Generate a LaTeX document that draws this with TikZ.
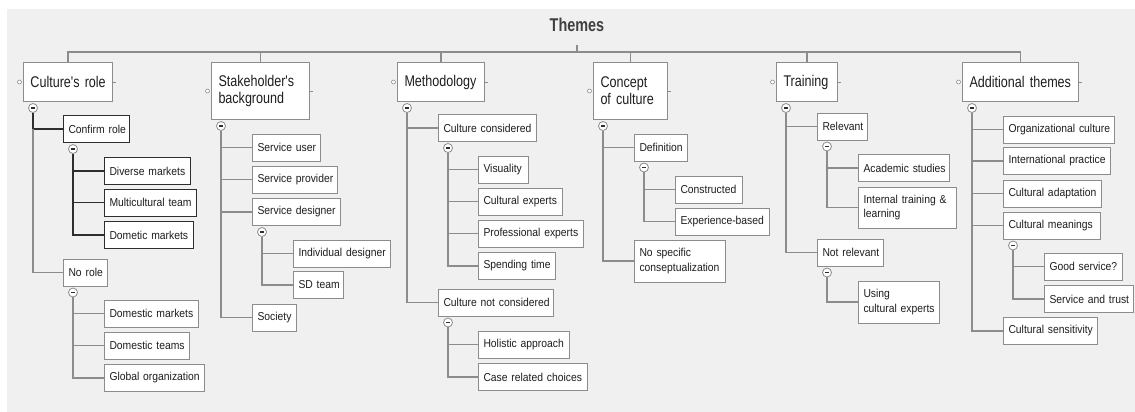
\documentclass[tikz,border=0pt]{standalone}
\usepackage{fontspec}
\setmainfont{Liberation Sans}
\newfontfamily\lvone{Liberation Sans}[FakeStretch=0.81]
\newfontfamily\lvtwo{Liberation Sans}[FakeStretch=0.9]
\newfontfamily\ttlfont{Liberation Sans}[FakeStretch=0.78]
\usetikzlibrary{calc}
\definecolor{bgcol}{HTML}{F0F0F0}
\definecolor{linegrey}{HTML}{8C8C8C}
\definecolor{boxgrey}{HTML}{8C8C8C}
\definecolor{darkline}{HTML}{2E2E2E}
\definecolor{txt}{HTML}{1E1E1E}
% labels are never broken inside a word
\hyphenpenalty=10000
\exhyphenpenalty=10000

\begin{document}
\begin{tikzpicture}[x=1pt,y=-1pt,
  conn/.style={draw=linegrey,line width=1.1pt},
  darkconn/.style={draw=darkline,line width=1.1pt},
  leaf/.style={draw=boxgrey,fill=white,line width=1pt,anchor=west,align=left,
    inner xsep=5pt,inner ysep=0pt,minimum height=27pt,text=txt,
    font=\lvtwo\fontsize{11.5}{14.5}\selectfont},
  leafdark/.style={leaf,draw=darkline},
  theme/.style={leaf,anchor=north west,inner xsep=7pt,minimum height=39pt,
    font=\lvone\fontsize{15.5}{17}\selectfont},
  toggle/.style={circle,draw=linegrey,fill=white,line width=0.8pt,inner sep=0pt,
    minimum size=9pt,
    path picture={\draw[line width=1.1pt,darkline]
      ([xshift=-2pt]path picture bounding box.center) --
      ([xshift=2pt]path picture bounding box.center);}},
  knob/.style={circle,draw=linegrey,fill=white,line width=0.6pt,inner sep=0pt,
    minimum size=4pt},
]
\useasboundingbox (0,0) rectangle (1135,412);
\fill[bgcol] (7,9) rectangle (1135,412);

% root
\node[font=\ttlfont\bfseries\fontsize{18.5}{20}\selectfont,text=txt!85,anchor=base,inner sep=0pt]
  (title) at (577,32) {Themes};
\coordinate (tickTop) at (577,45);
\coordinate (bar) at (577,52);

% main themes
\node[theme,text width=75pt] (c1) at (23,62) {Culture's~role};
\node[theme,text width=84pt,minimum height=57pt] (c2) at (211,62) {Stakeholder's\\background};
\node[theme,text width=73pt] (c3) at (397,62) {Methodology};
\node[theme,text width=60pt,minimum height=57pt] (c4) at (593,62) {Concept\\of~culture};
\node[theme,text width=47pt] (c5) at (776,62) {Training};
\node[theme,text width=102pt] (c6) at (962,62) {Additional~themes};

\draw[conn] (tickTop) -- (bar);
\draw[conn] (c1.north) |- (bar) -| (c6.north);
\foreach \n in {c2,c3,c4,c5} \draw[conn] (\n.north) -- (\n.north |- bar);

\foreach \n in {c1,c2,c3,c4,c5,c6} {
  \node[knob] (\n-knob) at ([xshift=-3.5pt]\n.west) {};
  \draw[conn,line width=0.8pt] (\n.east) -- ++(3,0);
  \node[toggle] (\n-tg) at ($(\n.south west)+(10,6)$) {};
}

% Culture's role
\node[leafdark,text width=56pt] (confirm) at (63,129) {Confirm~role};
\node[leafdark,text width=76pt] (diverse) at (104,171) {Diverse~markets};
\node[leafdark,text width=82pt] (multi) at (104,202.5) {Multicultural~team};
\node[leafdark,text width=79pt] (dometic) at (104,235) {Dometic~markets};
\node[leaf,text width=34pt] (norole) at (63,272.5) {No~role};
\node[leaf,text width=84pt] (dommark) at (104,313.5) {Domestic~markets};
\node[leaf,text width=75pt] (domteam) at (104,345.5) {Domestic~teams};
\node[leaf,text width=90pt] (global) at (104,378) {Global~organization};
\node[toggle] (confirm-tg) at ($(confirm.south west)+(10,6)$) {};
\node[toggle] (norole-tg) at ($(norole.south west)+(10,6)$) {};

\draw[darkconn] (c1-tg.south) |- (confirm.west);
\draw[conn] (c1-tg.south |- confirm.west) |- (norole.west);
\draw[darkconn] (confirm-tg.south) |- (dometic.west);
\foreach \n in {diverse,multi} \draw[darkconn] (confirm-tg.south |- \n.west) -- (\n.west);
\draw[conn] (norole-tg.south) |- (global.west);
\foreach \n in {dommark,domteam} \draw[conn] (norole-tg.south |- \n.west) -- (\n.west);

% Stakeholder's background
\node[leaf,text width=58pt] (suser) at (252,147.5) {Service~user};
\node[leaf,text width=75pt] (sprov) at (252,179.5) {Service~provider};
\node[leaf,text width=78pt] (sdes) at (252,212) {Service~designer};
\node[leaf,text width=87pt] (inddes) at (293,253.5) {Individual~designer};
\node[leaf,text width=40pt] (sdteam) at (293,285) {SD~team};
\node[leaf,text width=34pt] (society) at (252,317.5) {Society};
\node[toggle] (sdes-tg) at ($(sdes.south west)+(10,6)$) {};
\draw[conn] (c2-tg.south) |- (society.west);
\foreach \n in {suser,sprov,sdes} \draw[conn] (c2-tg.south |- \n.west) -- (\n.west);
\draw[conn] (sdes-tg.south) |- (sdteam.west);
\draw[conn] (sdes-tg.south |- inddes.west) -- (inddes.west);

% Methodology
\node[leaf,text width=88pt] (ccons) at (438,128) {Culture~considered};
\node[leaf,text width=40pt] (visual) at (478,169.5) {Visuality};
\node[leaf,text width=74pt] (cexp) at (478,201.5) {Cultural~experts};
\node[leaf,text width=95pt] (pexp) at (478,233.5) {Professional~experts};
\node[leaf,text width=67pt] (spend) at (478,266) {Spending~time};
\node[leaf,text width=105pt] (cnot) at (438,302.5) {Culture~not~considered};
\node[leaf,text width=81pt] (holist) at (478,344.5) {Holistic~approach};
\node[leaf,text width=99pt] (caserel) at (478,377) {Case~related~choices};
\node[toggle] (ccons-tg) at ($(ccons.south west)+(10,6)$) {};
\node[toggle] (cnot-tg) at ($(cnot.south west)+(10,6)$) {};
\draw[conn] (c3-tg.south) |- (cnot.west);
\draw[conn] (c3-tg.south |- ccons.west) -- (ccons.west);
\draw[conn] (ccons-tg.south) |- (spend.west);
\foreach \n in {visual,cexp,pexp} \draw[conn] (ccons-tg.south |- \n.west) -- (\n.west);
\draw[conn] (cnot-tg.south) |- (caserel.west);
\draw[conn] (cnot-tg.south |- holist.west) -- (holist.west);

% Concept of culture
\node[leaf,text width=43pt] (defin) at (634,147.5) {Definition};
\node[leaf,text width=57pt] (constr) at (675,189.5) {Constructed};
\node[leaf,text width=84pt] (expb) at (675,221.5) {Experience-based};
\node[leaf,text width=81pt,minimum height=42pt] (nospec) at (634,261) {No~specific\\conseptualization};
\node[toggle] (defin-tg) at ($(defin.south west)+(10,6)$) {};
\draw[conn] (c4-tg.south) |- (nospec.west);
\draw[conn] (c4-tg.south |- defin.west) -- (defin.west);
\draw[conn] (defin-tg.south) |- (expb.west);
\draw[conn] (defin-tg.south |- constr.west) -- (constr.west);

% Training
\node[leaf,text width=40pt] (relev) at (817,126.5) {Relevant};
\node[leaf,text width=81pt] (acad) at (858,168) {Academic~studies};
\node[leaf,text width=88pt,minimum height=41pt] (intern) at (858,207.5) {Internal~training~\&\\learning};
\node[leaf,text width=56pt] (notrel) at (817,252.5) {Not~relevant};
\node[leaf,text width=71pt,minimum height=42pt] (usexp) at (858,302) {Using\\cultural~experts};
\node[toggle] (relev-tg) at ($(relev.south west)+(10,6)$) {};
\node[toggle] (notrel-tg) at ($(notrel.south west)+(10,6)$) {};
\draw[conn] (c5-tg.south) |- (notrel.west);
\draw[conn] (c5-tg.south |- relev.west) -- (relev.west);
\draw[conn] (relev-tg.south) |- (intern.west);
\draw[conn] (relev-tg.south |- acad.west) -- (acad.west);
\draw[conn] (notrel-tg.south) |- (usexp.west);

% Additional themes
\node[leaf,text width=101pt] (orgc) at (1003,129.5) {Organizational~culture};
\node[leaf,text width=97pt] (intl) at (1003,161) {International~practice};
\node[leaf,text width=88pt] (adapt) at (1003,193.5) {Cultural~adaptation};
\node[leaf,text width=87pt] (mean) at (1003,225.5) {Cultural~meanings};
\node[leaf,text width=68pt] (goods) at (1044,266.5) {Good~service?};
\node[leaf,text width=79pt] (trust) at (1044,299) {Service~and~trust};
\node[leaf,text width=84pt] (sensit) at (1003,331) {Cultural~sensitivity};
\node[toggle] (mean-tg) at ($(mean.south west)+(10,6)$) {};
\draw[conn] (c6-tg.south) |- (sensit.west);
\foreach \n in {orgc,intl,adapt,mean} \draw[conn] (c6-tg.south |- \n.west) -- (\n.west);
\draw[conn] (mean-tg.south) |- (trust.west);
\draw[conn] (mean-tg.south |- goods.west) -- (goods.west);
\end{tikzpicture}
\end{document}
